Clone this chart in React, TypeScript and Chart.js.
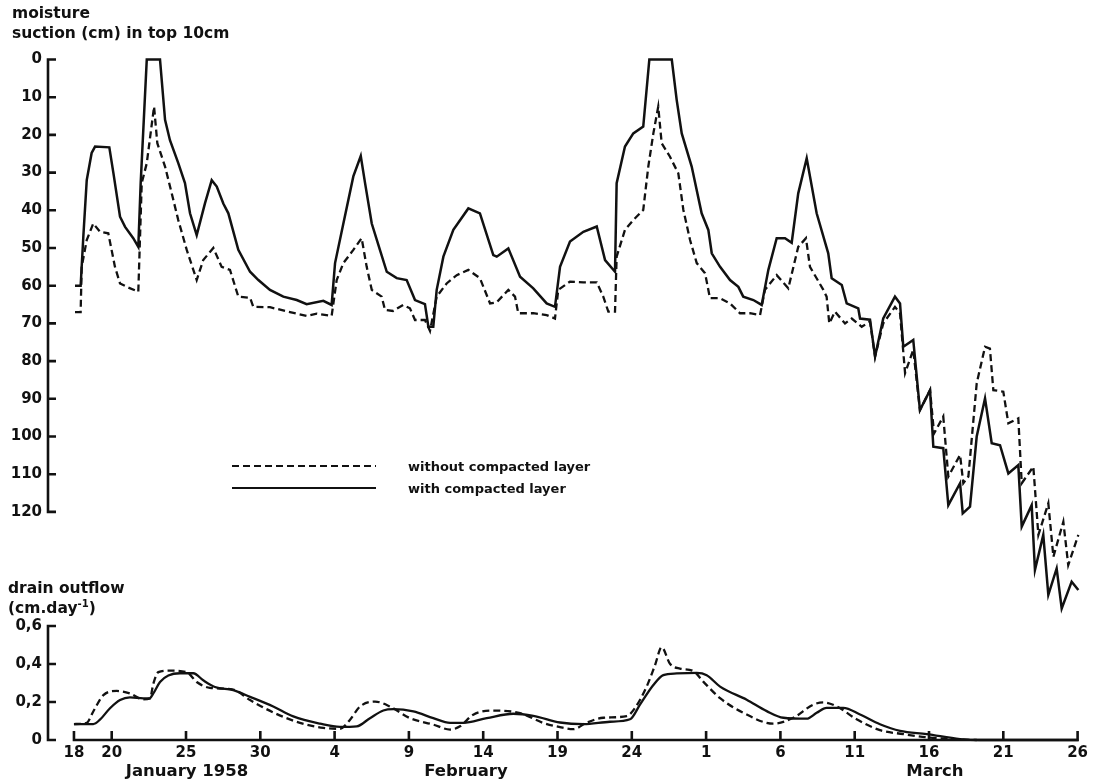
import React, { useEffect, useRef } from "react";
import { Chart, registerables } from "chart.js";

Chart.register(...registerables);

// Day numbers count from 1 January 1958 (4 Feb = 35, 1 Mar = 60, 26 Mar = 85).
const xTickDays = [17.46, 20, 25, 30, 35, 40, 45, 50, 55, 60, 65, 70, 75, 80, 85];
const xTickLabels = ["18", "20", "25", "30", "4", "9", "14", "19", "24", "1", "6", "11", "16", "21", "26"];
const monthLabels = ["January 1958", "February", "March"];
const monthLabelDays = [25.07, 43.84, 75.4];

const suctionTicks = [0, 10, 20, 30, 40, 50, 60, 70, 80, 90, 100, 110, 120];
const outflowTicks = [0, 0.2, 0.4, 0.6];

const seriesLabels = ["without compacted layer", "with compacted layer"];

// moisture suction (cm) in top 10 cm, [day, suction]
const suctionWithout: [number, number][] = [
  [17.53, 67], [17.91, 67], [17.98, 55], [18.32, 47.9], [18.76, 43.5], [19.21, 45.7], [19.77, 46.1],
  [20.22, 55], [20.56, 59.4], [21.12, 60.5], [21.79, 61.6], [22.02, 32.8], [22.36, 27.5], [22.85, 12.5],
  [23.07, 22.2], [23.59, 28.4], [24.04, 35.5], [24.48, 42.6], [25.05, 50.5], [25.72, 58.5], [26.16, 53.2],
  [26.84, 50], [27.4, 55], [27.96, 55.8], [28.52, 62.9], [29.31, 63.2], [29.53, 65.6], [30.65, 65.7],
  [32.0, 67], [33.12, 68], [33.8, 67.4], [34.8, 68], [35.14, 58.5], [35.59, 54], [36.26, 50.5],
  [36.82, 47.4], [37.16, 55], [37.5, 61.1], [38.17, 62.9], [38.39, 66.4], [38.93, 66.7], [39.62, 65.1],
  [40.07, 66], [40.41, 69.1], [41.08, 69.1], [41.42, 72], [41.87, 62.9], [42.54, 59.4], [43.22, 57.2],
  [44.0, 55.8], [44.78, 58], [45.46, 64.7], [45.91, 64.4], [46.69, 61.1], [47.14, 62.9], [47.36, 67.3],
  [48.37, 67.3], [49.27, 67.8], [49.83, 68.7], [50.05, 61.1], [50.84, 58.9], [51.74, 59.1], [52.64, 59.1],
  [53.08, 62.9], [53.42, 66.9], [53.87, 66.9], [53.98, 52.3], [54.54, 45.2], [55.1, 42.6], [55.77, 39.9],
  [56.11, 28.4], [56.45, 19.6], [56.78, 12.5], [57.01, 22.2], [57.57, 25.8], [58.13, 30.2], [58.47, 39.9],
  [58.92, 47.9], [59.37, 54], [59.93, 56.7], [60.26, 63.3], [60.94, 63.3], [61.61, 64.7], [62.28, 67.3],
  [62.95, 67.3], [63.63, 67.8], [63.96, 61.1], [64.75, 57.2], [65.53, 60.7], [66.2, 49.7], [66.72, 47.4],
  [66.99, 55], [67.89, 61.1], [68.11, 62.9], [68.29, 70], [68.67, 66.9], [69.35, 70], [69.8, 68.7],
  [70.47, 70.9], [71.03, 69.5], [71.37, 78.8], [71.92, 70], [72.71, 65.6], [73.05, 67.3], [73.39, 83.2],
  [73.94, 77], [74.39, 93], [75.07, 87.7], [75.34, 99.2], [75.96, 94.7], [76.3, 110.6], [77.09, 104.9],
  [77.31, 112.4], [77.65, 110.6], [78.21, 85.9], [78.77, 76.2], [79.1, 76.7], [79.33, 87.7], [80.0, 88.1],
  [80.34, 96.5], [81.01, 95.2], [81.24, 112.4], [82.02, 108], [82.36, 126.1], [83.03, 117.7], [83.37, 131.9],
  [84.04, 122.6], [84.37, 134.1], [85.05, 126.1],
];

const suctionWith: [number, number][] = [
  [17.53, 60], [17.91, 60], [18.09, 47], [18.32, 32], [18.65, 24.8], [18.88, 23.1], [19.84, 23.3],
  [20.11, 30], [20.56, 41.7], [20.9, 44.4], [21.45, 47.4], [21.79, 49.7], [21.95, 32.8], [22.36, 0],
  [23.25, 0], [23.59, 16], [23.92, 21.4], [24.48, 27.5], [24.93, 32.8], [25.27, 40.8], [25.72, 46.6],
  [26.28, 38.1], [26.73, 32], [27.07, 33.7], [27.51, 38.2], [27.85, 40.8], [28.52, 50.5], [29.31, 56.3],
  [29.87, 58.5], [30.65, 61.1], [31.55, 62.9], [32.45, 63.8], [33.12, 64.9], [34.24, 64], [34.8, 65.1],
  [35.03, 54], [35.59, 43.5], [36.26, 31], [36.76, 25.6], [37.05, 32.8], [37.5, 43.5], [38.05, 50.5],
  [38.51, 56.3], [39.18, 58], [39.85, 58.5], [40.41, 63.8], [41.08, 64.9], [41.31, 70.9], [41.64, 70.9],
  [41.87, 61.1], [42.32, 52.3], [42.99, 45.2], [44.0, 39.5], [44.78, 40.8], [45.68, 51.9], [45.91, 52.3],
  [46.69, 50.1], [47.48, 57.6], [48.37, 60.7], [49.27, 64.7], [49.83, 65.6], [50.17, 55], [50.84, 48.3],
  [51.74, 45.7], [52.64, 44.3], [53.2, 53.2], [53.87, 56.3], [53.98, 32.8], [54.54, 23.1], [55.1, 19.6],
  [55.77, 17.8], [56.18, 0], [57.69, 0], [58.02, 10.7], [58.36, 19.6], [59.03, 28.4], [59.7, 40.8],
  [60.15, 45.2], [60.38, 51.4], [60.94, 55], [61.61, 58.5], [62.17, 60.3], [62.5, 62.9], [63.18, 63.8],
  [63.74, 65.1], [64.19, 55.8], [64.75, 47.4], [65.31, 47.4], [65.76, 48.6], [66.2, 35.5], [66.77, 26.2],
  [67.44, 40.8], [68.22, 51.4], [68.45, 58], [69.13, 59.8], [69.46, 64.7], [70.24, 66], [70.36, 68.7],
  [71.03, 69], [71.37, 78.8], [71.92, 68.7], [72.71, 62.9], [73.05, 64.7], [73.27, 76.2], [73.94, 74.4],
  [74.39, 93], [75.07, 87.7], [75.29, 102.7], [75.96, 103.1], [76.3, 118.2], [77.09, 112.4], [77.27, 120.4],
  [77.76, 118.6], [78.21, 100], [78.77, 89.9], [79.22, 101.8], [79.78, 102.3], [80.34, 109.8], [81.01, 107.6],
  [81.24, 123.9], [81.91, 118.2], [82.13, 135.4], [82.69, 126.1], [83.03, 142], [83.59, 135], [83.93, 145.6],
  [84.6, 138.5], [85.05, 140.7],
];

// drain outflow (cm/day), [day, outflow]
const outflowWithout: [number, number][] = [
  [17.46, 0.084], [18.32, 0.09], [18.76, 0.15], [19.44, 0.236], [20.34, 0.258], [21.23, 0.245],
  [22.13, 0.214], [22.58, 0.219], [22.8, 0.296], [23.14, 0.357], [23.92, 0.365], [25.05, 0.357],
  [25.72, 0.305], [26.61, 0.274], [28.18, 0.265], [29.31, 0.21], [30.87, 0.145], [32.67, 0.09],
  [34.24, 0.064], [35.36, 0.059], [36.04, 0.107], [36.71, 0.176], [37.72, 0.202], [38.73, 0.176],
  [40.07, 0.115], [41.64, 0.081], [42.77, 0.055], [43.44, 0.072], [44.33, 0.133], [45.68, 0.155],
  [47.48, 0.141], [49.04, 0.09], [50.17, 0.068], [51.06, 0.057], [51.96, 0.091], [53.08, 0.117],
  [54.66, 0.126], [55.22, 0.169], [56.0, 0.281], [56.56, 0.393], [57.01, 0.488], [57.57, 0.401],
  [58.24, 0.376], [59.14, 0.363], [59.81, 0.307], [60.94, 0.22], [62.5, 0.143], [64.52, 0.086],
  [65.87, 0.117], [67.21, 0.186], [67.89, 0.198], [68.79, 0.177], [70.13, 0.109], [71.7, 0.052],
  [73.27, 0.031], [74.85, 0.014], [77.09, 0.003], [78.21, 0],
];

const outflowWith: [number, number][] = [
  [17.46, 0.084], [18.76, 0.084], [19.21, 0.107], [19.885, 0.167], [20.56, 0.21], [21.23, 0.224],
  [22.13, 0.219], [22.53, 0.219], [22.8, 0.245], [23.25, 0.305], [23.81, 0.339], [24.6, 0.351],
  [25.49, 0.351], [26.16, 0.314], [26.95, 0.279], [28.18, 0.262], [29.31, 0.227], [30.87, 0.176],
  [32.22, 0.124], [34.02, 0.086], [35.36, 0.069], [36.49, 0.072], [37.38, 0.115], [38.28, 0.155],
  [38.95, 0.162], [40.3, 0.15], [41.64, 0.115], [42.77, 0.09], [43.66, 0.09], [45.24, 0.115],
  [47.03, 0.138], [48.37, 0.127], [50.17, 0.092], [51.74, 0.083], [53.53, 0.096], [54.88, 0.109],
  [55.55, 0.186], [56.45, 0.289], [57.12, 0.341], [58.02, 0.35], [59.37, 0.353], [60.04, 0.341],
  [60.94, 0.281], [62.73, 0.212], [64.08, 0.152], [65.2, 0.117], [66.77, 0.112], [67.44, 0.143],
  [68.11, 0.169], [69.23, 0.169], [70.36, 0.134], [71.7, 0.083], [73.05, 0.048], [74.85, 0.031],
  [77.09, 0.005], [78.43, 0], [85.05, 0],
];

const INK = "#111";
const FONT = '"DejaVu Sans", sans-serif';
const DASH = [7, 4];

const toPoints = (rows: [number, number][]) => rows.map(([x, y]) => ({ x, y }));
const fmtComma = (v: number) => (v === 0 ? "0" : v.toFixed(1).replace(".", ","));

// Axis lines with inward ticks, plus the month names under the time axis.
const axisFrame = {
  id: "axisFrame",
  afterDatasetsDraw(chart: any) {
    const { ctx, chartArea } = chart;
    const x = chart.scales.x;
    const yt = chart.scales.yTop;
    const yb = chart.scales.yBottom;
    const ax = chartArea.left;
    const tick = 8;
    ctx.save();
    ctx.strokeStyle = INK;
    ctx.lineWidth = 2.6;
    ctx.lineJoin = "miter";
    ctx.lineCap = "butt";

    const tTop = yt.getPixelForValue(suctionTicks[0]);
    const tEnd = yt.getPixelForValue(suctionTicks[suctionTicks.length - 1]);
    ctx.beginPath();
    ctx.moveTo(ax + tick, tTop);
    ctx.lineTo(ax, tTop);
    ctx.lineTo(ax, tEnd);
    ctx.lineTo(ax + tick, tEnd);
    for (const v of suctionTicks.slice(1, -1)) {
      const p = yt.getPixelForValue(v);
      ctx.moveTo(ax, p);
      ctx.lineTo(ax + tick, p);
    }
    ctx.stroke();

    const bTop = yb.getPixelForValue(outflowTicks[outflowTicks.length - 1]);
    const bBase = yb.getPixelForValue(0);
    ctx.beginPath();
    ctx.moveTo(ax + tick, bTop);
    ctx.lineTo(ax, bTop);
    ctx.lineTo(ax, bBase);
    ctx.lineTo(ax + tick, bBase);
    for (const v of outflowTicks.slice(1, -1)) {
      const p = yb.getPixelForValue(v);
      ctx.moveTo(ax, p);
      ctx.lineTo(ax + tick, p);
    }
    ctx.stroke();

    const x0 = x.getPixelForValue(xTickDays[0]);
    const x1 = x.getPixelForValue(xTickDays[xTickDays.length - 1]);
    ctx.beginPath();
    ctx.moveTo(x0 - 1.3, bBase);
    ctx.lineTo(x1 + 1.3, bBase);
    for (const d of xTickDays) {
      const p = x.getPixelForValue(d);
      ctx.moveTo(p, bBase);
      ctx.lineTo(p, bBase - 9);
    }
    ctx.stroke();

    ctx.fillStyle = INK;
    ctx.font = `bold 16.5px ${FONT}`;
    ctx.textAlign = "center";
    ctx.textBaseline = "alphabetic";
    monthLabels.forEach((t, i) => {
      ctx.fillText(t, x.getPixelForValue(monthLabelDays[i]), chart.height - 4);
    });
    ctx.restore();
  },
};

function SuctionOutflowChart() {
  const canvasRef = useRef<HTMLCanvasElement | null>(null);

  useEffect(() => {
    const canvas = canvasRef.current;
    if (!canvas) return;
    const tickFont = { family: FONT, size: 15, weight: "bold" as const };
    const line = {
      pointRadius: 0,
      pointHoverRadius: 0,
      borderColor: INK,
      fill: false,
      clip: false as const,
    };
    const chart = new Chart(canvas, {
      type: "line",
      data: {
        datasets: [
          {
            ...line,
            label: seriesLabels[0],
            data: toPoints(suctionWithout),
            borderWidth: 2.3,
            borderDash: DASH,
            tension: 0,
            xAxisID: "x",
            yAxisID: "yTop",
          },
          {
            ...line,
            label: seriesLabels[1],
            data: toPoints(suctionWith),
            borderWidth: 2.5,
            tension: 0,
            xAxisID: "x",
            yAxisID: "yTop",
          },
          {
            ...line,
            label: seriesLabels[0],
            data: toPoints(outflowWithout),
            borderWidth: 2.3,
            borderDash: DASH,
            cubicInterpolationMode: "monotone",
            xAxisID: "x",
            yAxisID: "yBottom",
          },
          {
            ...line,
            label: seriesLabels[1],
            data: toPoints(outflowWith),
            borderWidth: 2.3,
            cubicInterpolationMode: "monotone",
            xAxisID: "x",
            yAxisID: "yBottom",
          },
        ],
      },
      options: {
        responsive: false,
        animation: false,
        events: [],
        layout: { padding: { top: 59.5, right: 15.7, left: 0, bottom: 0 } },
        plugins: {
          legend: { display: false },
          title: { display: false },
          tooltip: { enabled: false },
        },
        scales: {
          x: {
            type: "linear",
            position: "bottom",
            min: 15.713,
            max: 85.047,
            grid: { display: false, drawTicks: false },
            border: { display: false },
            afterBuildTicks: (s: any) => {
              s.ticks = xTickDays.map((value) => ({ value }));
            },
            afterFit: (s: any) => {
              s.height = 40;
            },
            ticks: {
              autoSkip: false,
              maxRotation: 0,
              minRotation: 0,
              padding: 4,
              color: INK,
              font: tickFont,
              callback: (_v: any, i: number) => xTickLabels[i],
            },
          },
          yBottom: {
            type: "linear",
            position: "left",
            stack: "panels",
            stackWeight: 118,
            min: 0,
            max: 0.6207,
            grid: { display: false, drawTicks: false },
            border: { display: false },
            afterBuildTicks: (s: any) => {
              s.ticks = outflowTicks.map((value) => ({ value }));
            },
            afterFit: (s: any) => {
              s.width = 48;
            },
            ticks: {
              autoSkip: false,
              padding: 6,
              color: INK,
              font: tickFont,
              callback: (v: any) => fmtComma(Number(v)),
            },
          },
          yTop: {
            type: "linear",
            position: "left",
            stack: "panels",
            stackWeight: 562.5,
            reverse: true,
            min: 0,
            max: 149.2,
            grid: { display: false, drawTicks: false },
            border: { display: false },
            afterBuildTicks: (s: any) => {
              s.ticks = suctionTicks.map((value) => ({ value }));
            },
            afterFit: (s: any) => {
              s.width = 48;
            },
            ticks: {
              autoSkip: false,
              padding: 6,
              color: INK,
              font: tickFont,
              callback: (v: any) => String(v),
            },
          },
        },
      },
      plugins: [axisFrame],
    });
    return () => chart.destroy();
  }, []);

  return <canvas ref={canvasRef} width={1094} height={780} style={{ display: "block" }} />;
}

const textBlock: React.CSSProperties = {
  position: "absolute",
  font: `bold 15.5px ${FONT}`,
  lineHeight: "20px",
  color: INK,
  whiteSpace: "nowrap",
};

const legendText: React.CSSProperties = {
  position: "absolute",
  font: `bold 13px ${FONT}`,
  lineHeight: "16px",
  color: INK,
  whiteSpace: "nowrap",
};

export default function App() {
  return (
    <div
      style={{
        position: "absolute",
        left: 0,
        top: 0,
        width: 1094,
        height: 780,
        background: "#fff",
        overflow: "hidden",
      }}
    >
      <SuctionOutflowChart />
      <div style={{ ...textBlock, left: 12, top: 3 }}>
        moisture
        <br />
        suction (cm) in top 10cm
      </div>
      <div style={{ ...textBlock, left: 8, top: 578 }}>
        drain outflow
        <br />
        (cm.day
        <span style={{ fontSize: "0.65em", position: "relative", top: "-0.6em", lineHeight: 0 }}>-1</span>)
      </div>
      <svg style={{ position: "absolute", left: 232, top: 456 }} width={146} height={42}>
        <line x1={0} y1={10} x2={144} y2={10} stroke={INK} strokeWidth={2.2} strokeDasharray={DASH.join(" ")} />
        <line x1={0} y1={32} x2={144} y2={32} stroke={INK} strokeWidth={2.2} />
      </svg>
      <div style={{ ...legendText, left: 408, top: 459 }}>{seriesLabels[0]}</div>
      <div style={{ ...legendText, left: 408, top: 481 }}>{seriesLabels[1]}</div>
    </div>
  );
}
